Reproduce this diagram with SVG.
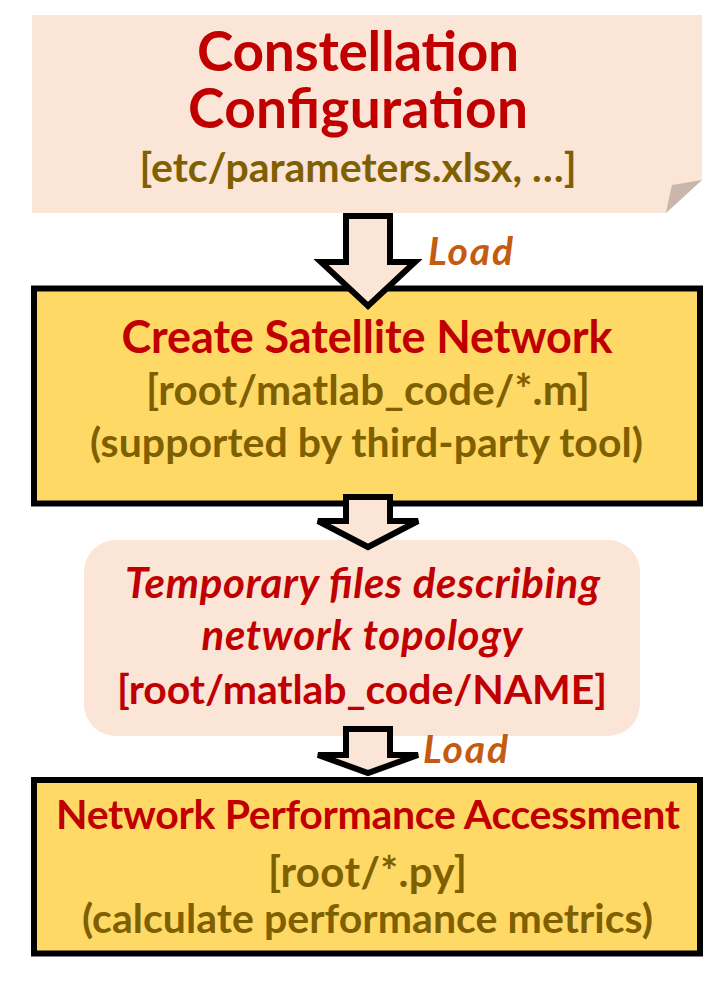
<svg xmlns="http://www.w3.org/2000/svg" width="722" height="992" viewBox="0 0 722 992">
<style>
.t{font-family:Lato,"Carlito","Liberation Sans",sans-serif;font-weight:bold;text-anchor:middle}
.red{fill:#C00000}
.olive{fill:#7F6000}
.it{font-style:italic}
.load{font-family:Lato,"Liberation Sans",sans-serif;font-weight:bold;font-style:italic;fill:#C55A11;font-size:39px}
.box{fill:#FFD966;stroke:#000;stroke-width:6}
.arrow{fill:#FBE5D6;stroke:#000;stroke-width:6;stroke-linejoin:miter}
</style>
<rect width="722" height="992" fill="#fff"/>
<g id="node-config">
<path d="M32,15 H702 V180 L666,213 H32 Z" fill="#FBE5D6"/>
<path d="M666,213 Q669,197 672,185 L702,180 Z" fill="#C9B7AB"/>
<text class="t red" x="358" y="71" font-size="55" textLength="322">Constellation</text>
<text class="t red" x="358" y="128" font-size="55" textLength="340">Configuration</text>
<text class="t olive" x="358" y="182" font-size="41" textLength="437">[etc/parameters.xlsx, …]</text>
</g>
<g id="node-create">
<rect class="box" x="34" y="288.5" width="666" height="215"/>
<text class="t red" x="367" y="353" font-size="45" textLength="491">Create Satellite Network</text>
<text class="t olive" x="368" y="405" font-size="42" textLength="444">[root/matlab_code/*.m]</text>
<text class="t olive" x="366.5" y="457" font-size="41" textLength="553">(supported by third-party tool)</text>
</g>
<g id="node-temp">
<rect x="84" y="540" width="556" height="196" rx="32" ry="32" fill="#FBE5D6"/>
<text class="t red it" x="362.5" y="598" font-size="42" textLength="475">Temporary files describing</text>
<text class="t red it" x="362" y="650" font-size="42" textLength="321">network topology</text>
<text class="t red" x="362" y="704" font-size="41" textLength="490">[root/matlab_code/NAME]</text>
</g>
<g id="node-assess">
<rect class="box" x="34" y="780" width="666" height="173.5"/>
<text class="t red" x="368" y="829" font-size="41" textLength="624">Network Performance Accessment</text>
<text class="t olive" x="367.5" y="887" font-size="42" textLength="199">[root/*.py]</text>
<text class="t olive" x="367.5" y="933" font-size="41" textLength="571">(calculate performance metrics)</text>
</g>
<g id="connectors">
<polygon class="arrow" points="346,216 390,216 390,262 415,262 368,306 321,262 346,262"/>
<text class="load" x="428" y="265" textLength="85">Load</text>
<polygon class="arrow" points="346,497 390,497 390,521 418,521 368,547 318,521 346,521"/>
<polygon class="arrow" points="346,729 390,729 390,755 418,755 368,773 318,755 346,755"/>
<text class="load" x="423" y="763" textLength="85">Load</text>
</g>
</svg>
